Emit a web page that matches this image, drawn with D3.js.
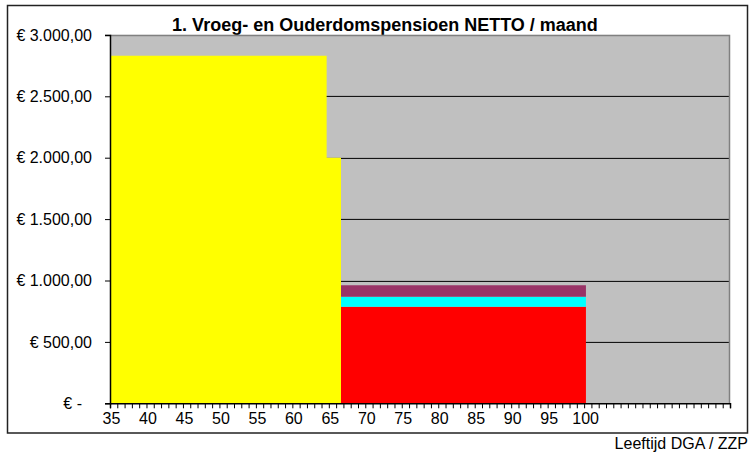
<!DOCTYPE html>
<html>
<head>
<meta charset="utf-8">
<script src="https://cdn.jsdelivr.net/npm/d3@7"></script>
<style>
  body { margin: 0; background: #fff; }
  svg { display: block; font-family: "Liberation Sans", Arial, sans-serif; }
</style>
</head>
<body>
<div id="chart"></div>
<script>
// pension per month (EUR), step breakpoints by age
var ages = [35, 64.7, 66.67, 100.25, 120];
var yellowSeries = [2830, 2000, 0, 0, 0];
var redSeries = [0, 0, 787, 0, 0];
var cyanSeries = [0, 0, 81, 0, 0];
var purpleSeries = [0, 0, 93, 0, 0];

var yTicks = [0, 500, 1000, 1500, 2000, 2500, 3000];
var xLabels = [35, 40, 45, 50, 55, 60, 65, 70, 75, 80, 85, 90, 95, 100];
var xMin = 35, xMax = 120;

var title = "1. Vroeg- en Ouderdomspensioen NETTO / maand";
var xTitle = "Leeftijd DGA / ZZP";

var keys = ["yellow", "red", "cyan", "purple"];
var colors = { yellow: "#FFFF00", red: "#FF0000", cyan: "#00FFFF", purple: "#993366" };

var W = 752, H = 454;
var margin = {top: 34.9, right: 22, bottom: 50.7, left: 110};
var width = W - margin.left - margin.right,
    height = H - margin.top - margin.bottom;

var svg = d3.select("#chart").append("svg")
    .attr("width", W)
    .attr("height", H);

// outer chart border
svg.append("rect")
    .attr("x", 7.5).attr("y", 5.5)
    .attr("width", 740).attr("height", 427.5)
    .attr("fill", "none")
    .attr("stroke", "#222")
    .attr("stroke-width", 1.5);

svg.append("text")
    .attr("x", 385).attr("y", 31)
    .attr("text-anchor", "middle")
    .attr("font-size", "18px")
    .attr("font-weight", "bold")
    .text(title);

svg.append("text")
    .attr("x", 748).attr("y", 449)
    .attr("text-anchor", "end")
    .attr("font-size", "16px")
    .text(xTitle);

var g = svg.append("g")
    .attr("transform", "translate(" + margin.left + "," + margin.top + ")");

var xScale = d3.scaleLinear().domain([xMin, xMax]).range([0, width]);
var yScale = d3.scaleLinear().domain([0, 3000]).range([height, 0]);

// plot background
g.append("rect")
    .attr("width", width).attr("height", height)
    .attr("fill", "#C0C0C0");

// gridlines
g.selectAll("line.grid")
  .data(yTicks.filter(function(d) { return d > 0 && d < 3000; }))
  .enter().append("line")
    .attr("class", "grid")
    .attr("x1", 0).attr("x2", width)
    .attr("y1", function(d) { return Math.round(yScale(d)) + 0.5; })
    .attr("y2", function(d) { return Math.round(yScale(d)) + 0.5; })
    .attr("stroke", "#000")
    .attr("stroke-width", 1);

// stacked step areas
var rows = ages.map(function(a, i) {
  return { age: a, yellow: yellowSeries[i], red: redSeries[i], cyan: cyanSeries[i], purple: purpleSeries[i] };
});
var stacked = d3.stack().keys(keys)(rows);

var area = d3.area()
    .curve(d3.curveStepAfter)
    .x(function(d) { return xScale(d.data.age); })
    .y0(function(d) { return yScale(d[0]); })
    .y1(function(d) { return yScale(d[1]); });

g.selectAll("path.layer")
  .data(stacked)
  .enter().append("path")
    .attr("class", "layer")
    .attr("fill", function(d) { return colors[d.key]; })
    .attr("d", area);

// plot border top/right
g.append("path")
    .attr("d", "M0,0.5H" + (width - 0.5) + "V" + height)
    .attr("fill", "none")
    .attr("stroke", "#808080")
    .attr("stroke-width", 1.5);

// axes
var nl = d3.formatLocale({decimal: ",", thousands: ".", grouping: [3], currency: ["€ ", ""]});
var fmt = nl.format(",.2f");

var yAxis = g.append("g")
    .call(d3.axisLeft(yScale).tickValues(yTicks).tickSize(5).tickPadding(13)
      .tickFormat(function(d) { return d === 0 ? "€ -" : "€ " + fmt(d); }));
yAxis.selectAll("text")
    .attr("font-size", "16px")
    .attr("fill", "#000")
    .attr("dx", function(d) { return d === 0 ? -10 : 0; });

var xAxis = g.append("g")
    .attr("transform", "translate(0," + height + ")")
    .call(d3.axisBottom(xScale).tickValues(d3.range(xMin, xMax + 1)).tickSize(5).tickPadding(4)
      .tickFormat(function(d) { return xLabels.indexOf(d) >= 0 ? d : ""; }));
xAxis.selectAll("text")
    .attr("font-size", "16px")
    .attr("fill", "#000")
    .attr("dx", 1);

g.selectAll(".domain").attr("stroke", "#000").attr("stroke-width", 1.5);
g.selectAll(".tick line").attr("stroke", "#000");
</script>
</body>
</html>
